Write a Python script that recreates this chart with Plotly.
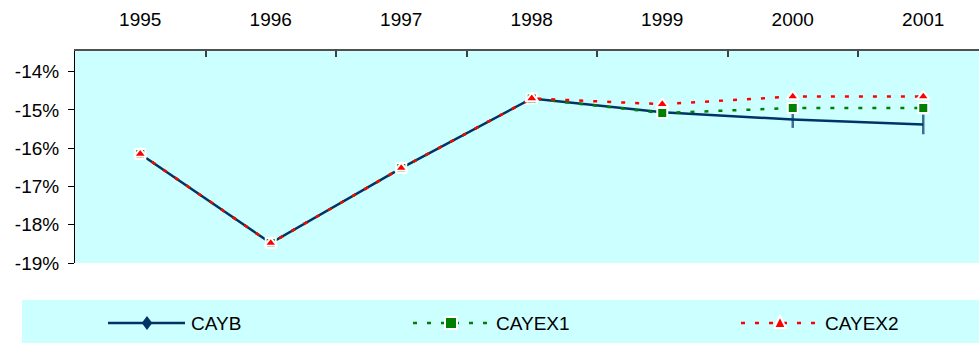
import plotly.graph_objects as go

# Current account balance scenarios, % of GDP
years = ["1995", "1996", "1997", "1998", "1999", "2000", "2001"]
cayb = [-16.15, -18.48, -16.52, -14.70, -15.06, -15.25, -15.38]
cayex1 = [-16.15, -18.48, -16.52, -14.70, -15.08, -14.95, -14.95]
cayex2 = [-16.15, -18.48, -16.52, -14.70, -14.85, -14.65, -14.65]

y_ticks = [-19, -18, -17, -16, -15, -14]
y_tick_labels = ["-19%", "-18%", "-17%", "-16%", "-15%", "-14%"]

series_names = ["CAYB", "CAYEX1", "CAYEX2"]

NAVY = "#003366"
GREEN = "#008000"
RED = "#FF0000"
BG = "#CCFFFF"
FONT = dict(family="Liberation Sans, Arial, sans-serif", size=19, color="black")

# Plot-area geometry in pixels (used to place the legend box outside it)
W_FIG, H_FIG = 979, 343
L, T, B = 75, 51, 80
PW = W_FIG - L
PH = H_FIG - T - B


def px_x(px):
    return (px - L) / PW


def px_y(py):
    return (H_FIG - B - py) / PH


fig = go.Figure()

fig.add_trace(go.Scatter(
    x=years, y=cayb, name=series_names[0], mode="lines+markers",
    line=dict(color=NAVY, width=2.5),
    marker=dict(symbol="line-ns", size=[0, 0, 0, 0, 0, 12, 14],
                line=dict(color=NAVY, width=2.5)),
    showlegend=False,
))
fig.add_trace(go.Scatter(
    x=years, y=cayex1, name=series_names[1], mode="lines+markers",
    line=dict(color=GREEN, width=2.5, dash="4px,10px"),
    marker=dict(symbol="square", size=10, color=GREEN,
                line=dict(color="white", width=2)),
    showlegend=False,
))
fig.add_trace(go.Scatter(
    x=years, y=cayex2, name=series_names[2], mode="lines+markers",
    line=dict(color=RED, width=2.5, dash="4px,10px"),
    marker=dict(symbol="triangle-up", size=11, color=RED,
                line=dict(color="white", width=2)),
    showlegend=False,
))

# Legend panel below the plot
shapes = [dict(type="rect", xref="paper", yref="paper",
               x0=px_x(22), x1=px_x(1000), y0=px_y(300), y1=px_y(346),
               fillcolor=BG, line=dict(width=0), layer="below")]
annotations = []

LEG_Y = 323
legend_items = [
    (108, 185, 147, 189, NAVY, "solid", "diamond"),
    (413, 490, 451, 494, GREEN, "4px,10px", "square"),
    (741, 818, 780, 823, RED, "4px,10px", "triangle"),
]
for (x0, x1, xm, xt, col, dash, sym), name in zip(legend_items, series_names):
    shapes.append(dict(type="line", xref="paper", yref="paper",
                       x0=px_x(x0), x1=px_x(x1), y0=px_y(LEG_Y), y1=px_y(LEG_Y),
                       line=dict(color=col, width=2.5, dash=dash)))
    if sym == "diamond":
        r = 7
        pts = [(xm, LEG_Y - r), (xm + r * 0.75, LEG_Y), (xm, LEG_Y + r), (xm - r * 0.75, LEG_Y)]
        line = dict(width=0)
    elif sym == "square":
        r = 6
        pts = [(xm - r, LEG_Y - r), (xm + r, LEG_Y - r), (xm + r, LEG_Y + r), (xm - r, LEG_Y + r)]
        line = dict(color="white", width=2)
    else:
        r = 6
        pts = [(xm, LEG_Y - r - 1), (xm + r, LEG_Y + r - 1), (xm - r, LEG_Y + r - 1)]
        line = dict(color="white", width=2)
    path = "M " + " L ".join(f"{px_x(a):.5f},{px_y(b):.5f}" for a, b in pts) + " Z"
    shapes.append(dict(type="path", xref="paper", yref="paper", path=path,
                       fillcolor=col, line=line))
    annotations.append(dict(text=name, xref="paper", yref="paper",
                            x=px_x(xt), y=px_y(LEG_Y), xanchor="left", yanchor="middle",
                            showarrow=False, font=FONT))

fig.update_layout(
    width=W_FIG, height=H_FIG,
    margin=dict(l=L, r=0, t=T, b=B, pad=0),
    paper_bgcolor="white", plot_bgcolor=BG,
    font=FONT,
    shapes=shapes, annotations=annotations,
    showlegend=False,
)

fig.update_xaxes(
    type="category", side="top", range=[-0.5, -0.5 + PW / 130.5],
    tickson="boundaries", ticks="inside", ticklen=6, tickwidth=1.5, tickcolor="#404040",
    showline=True, linecolor="#505050", linewidth=1.5,
    showgrid=False, zeroline=False, ticklabelstandoff=16, tickfont=FONT,
)
fig.update_yaxes(
    range=[-19, -13.46], tickvals=y_ticks, ticktext=y_tick_labels,
    ticks="outside", ticklen=6, tickwidth=1, tickcolor="black",
    showline=True, linecolor="black", linewidth=1,
    showgrid=False, zeroline=False, ticklabelstandoff=5, tickfont=FONT,
)

fig.write_html("out.html")
